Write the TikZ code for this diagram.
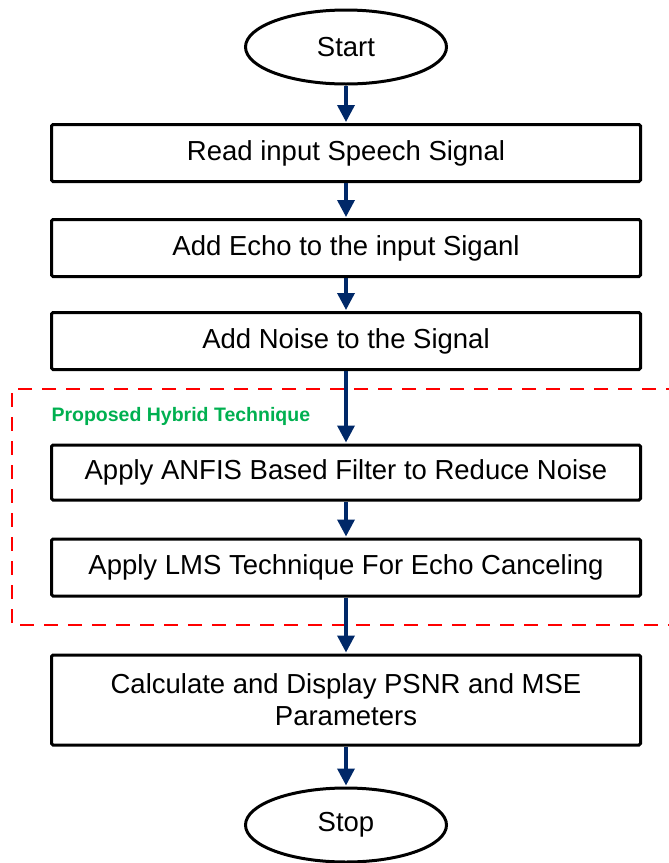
\documentclass[tikz,border=0pt]{standalone}
\usepackage{fontspec}
\setmainfont{Liberation Sans}
\usetikzlibrary{shapes.geometric,arrows.meta}
\definecolor{navy}{RGB}{0,40,104}
\definecolor{lbgreen}{RGB}{0,176,80}
\tikzset{
  stepbox/.style={draw=black, line width=3pt, rectangle, rounded corners=1.5pt, minimum width=589pt, minimum height=57pt, inner sep=0pt, align=center, font=\fontsize{27.5}{32}\selectfont},
  term/.style={draw=black, line width=3pt, ellipse, minimum width=201pt, minimum height=74pt, inner sep=0pt, font=\fontsize{27.5}{30}\selectfont},
  arr/.style={draw=navy, line width=3.5pt, -{Triangle[length=17pt,width=17pt]}, shorten >=1pt},
}
\begin{document}
\begin{tikzpicture}[x=1pt,y=-1pt]
\useasboundingbox (0,0) rectangle (669,863);
\draw[red, line width=2.2pt, dash pattern=on 14pt off 10pt] (680,389) -- (12,389) -- (12,625) -- (680,625);
\node[anchor=west, text=lbgreen, font=\fontsize{19.5}{22}\bfseries] (lbl) at (48,416) {Proposed Hybrid Technique};
\node[term] (start) at (346,47) {Start};
\node[stepbox] (b1) at (346,153) {Read input Speech Signal};
\node[stepbox] (b2) at (346,248) {Add Echo to the input Siganl};
\node[stepbox] (b3) at (346,341) {Add Noise to the Signal};
\node[stepbox, minimum height=55pt] (b4) at (346,472.5) {Apply ANFIS Based Filter to Reduce Noise};
\node[stepbox, minimum height=57pt] (b5) at (346,567.5) {Apply LMS Technique For Echo Canceling};
\node[stepbox, minimum height=90pt] (b6) at (346,700) {Calculate and Display PSNR and MSE\\Parameters};
\node[term] (stop) at (346,825) {Stop};
\draw[arr] (start) -- (b1);
\draw[arr] (b1) -- (b2);
\draw[arr] (b2) -- (b3);
\draw[arr] (b3) -- (b4);
\draw[arr] (b4) -- (b5);
\draw[arr] (b5) -- (b6);
\draw[arr] (b6) -- (stop);
\end{tikzpicture}
\end{document}
